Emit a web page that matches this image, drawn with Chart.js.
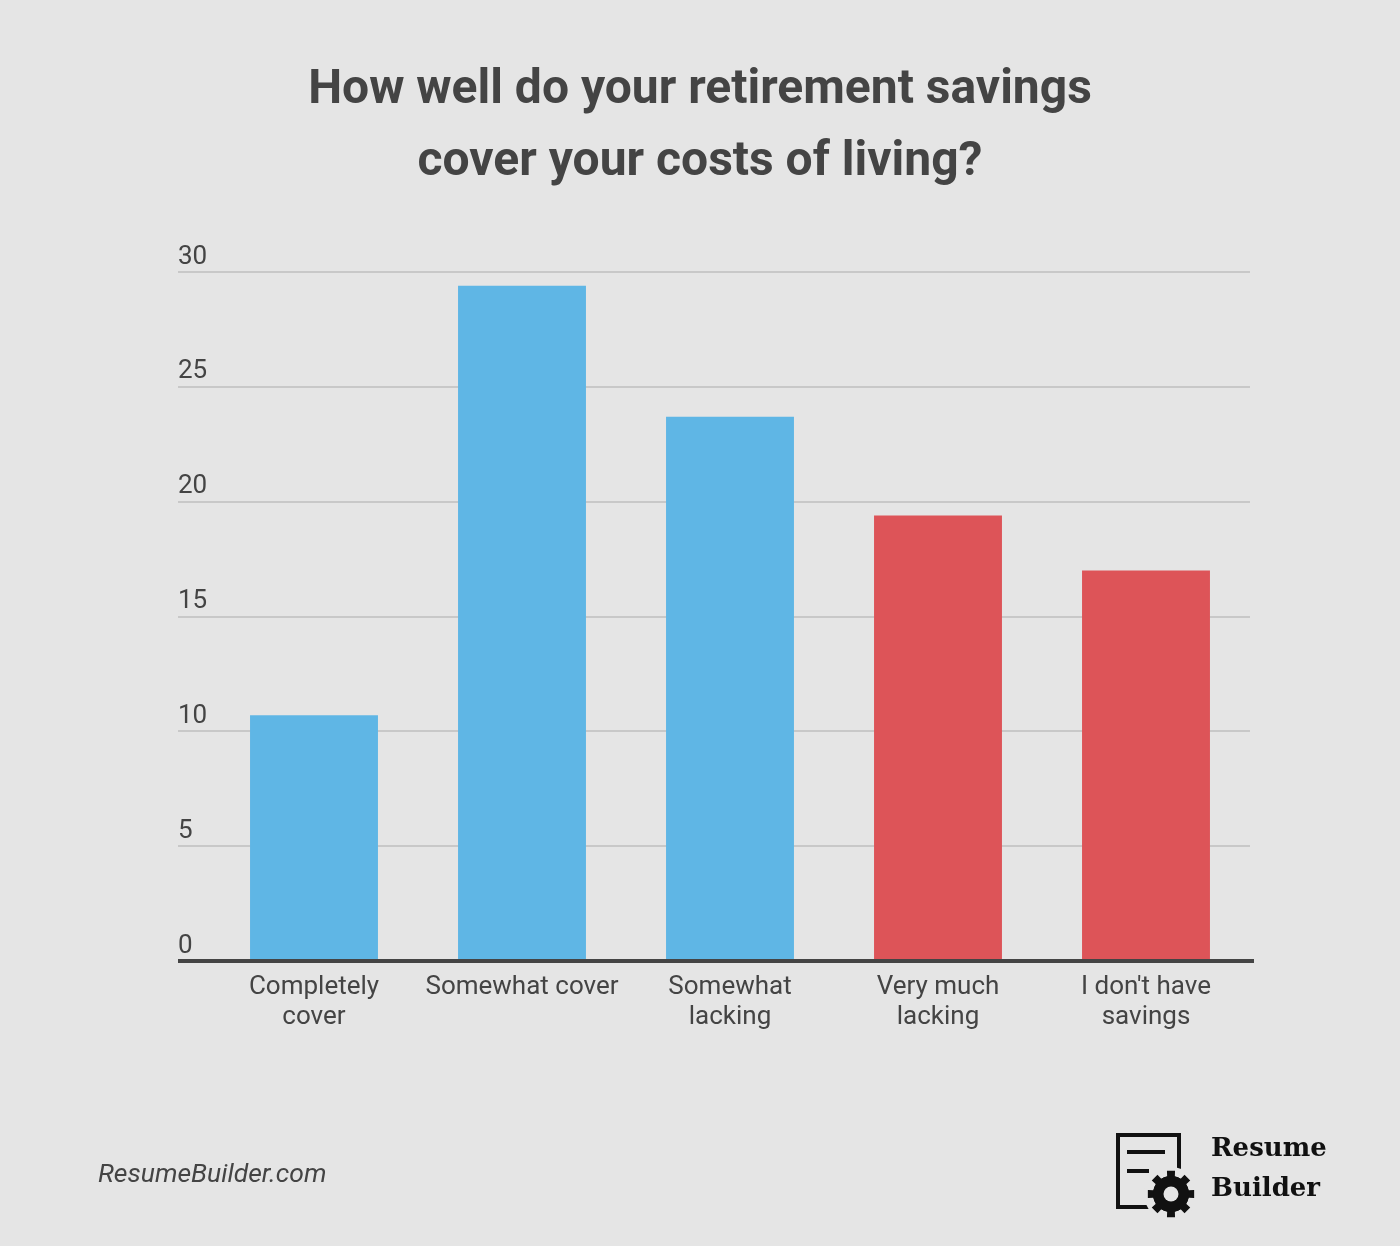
<!DOCTYPE html>
<html>
<head>
<meta charset="utf-8">
<script src="https://cdn.jsdelivr.net/npm/chart.js@4/dist/chart.umd.min.js"></script>
<style>
  html, body { margin: 0; padding: 0; background: #e5e5e5; }
  #wrap { width: 1400px; height: 1246px; position: relative; }
  canvas { display: block; }
</style>
</head>
<body>
<div id="wrap"><canvas id="c" width="1400" height="1246"></canvas></div>
<script>
// ---- data ----
const titleLines = ['How well do your retirement savings', 'cover your costs of living?'];
const categories = [['Completely', 'cover'], 'Somewhat cover', ['Somewhat', 'lacking'], ['Very much', 'lacking'], ["I don't have", 'savings']];
const values = [10.7, 29.4, 23.7, 19.4, 17.0];
const yTicks = { min: 0, max: 30, step: 5 };
const sourceText = 'ResumeBuilder.com';
const logoLines = ['Resume', 'Builder'];

const BLUE = '#5fb6e5';
const RED = '#dd5458';
const TEXT = '#444444';
const BG = '#e5e5e5';

const decorPlugin = {
  id: 'decor',
  afterDatasetsDraw(chart) {
    const y = chart.scales.y;
    const ctx = chart.ctx;
    const py = y.getPixelForValue(0);
    ctx.save();
    ctx.strokeStyle = TEXT;
    ctx.lineWidth = 4;
    ctx.beginPath();
    ctx.moveTo(y.right - 32, py);
    ctx.lineTo(chart.chartArea.right + 4, py);
    ctx.stroke();
    ctx.restore();
  },
  afterDraw(chart) {
    const ctx = chart.ctx;
    ctx.save();
    // source text
    ctx.fillStyle = TEXT;
    ctx.font = 'italic 26.5px Roboto';
    ctx.textBaseline = 'alphabetic';
    ctx.textAlign = 'left';
    ctx.fillText(sourceText, 98, 1182);

    // logo icon
    const ink = '#111111';
    ctx.strokeStyle = ink;
    ctx.lineWidth = 4;
    ctx.strokeRect(1118, 1135, 61, 72);
    ctx.beginPath();
    ctx.moveTo(1127, 1152); ctx.lineTo(1165, 1152);
    ctx.moveTo(1127, 1171); ctx.lineTo(1149, 1171);
    ctx.stroke();
    // gear
    const cx = 1171, cy = 1194;
    ctx.fillStyle = BG;
    ctx.beginPath(); ctx.arc(cx, cy, 27, 0, Math.PI * 2); ctx.fill();
    ctx.fillStyle = ink;
    const teeth = 8, rOut = 23.5, rIn = 18;
    ctx.beginPath();
    for (let i = 0; i < teeth; i++) {
      const a = (i / teeth) * Math.PI * 2 - Math.PI / 2;
      const w = Math.PI / teeth * 0.55;
      const pts = [
        [a - Math.PI / teeth, rIn],
        [a - w, rIn],
        [a - w * 0.8, rOut],
        [a + w * 0.8, rOut],
        [a + w, rIn]
      ];
      pts.forEach(([ang, r], k) => {
        const px = cx + Math.cos(ang) * r, pyy = cy + Math.sin(ang) * r;
        if (i === 0 && k === 0) ctx.moveTo(px, pyy); else ctx.lineTo(px, pyy);
      });
    }
    ctx.closePath();
    ctx.fill();
    ctx.beginPath(); ctx.arc(cx, cy, rIn, 0, Math.PI * 2); ctx.fill();
    ctx.fillStyle = BG;
    ctx.beginPath(); ctx.arc(cx, cy, 7.5, 0, Math.PI * 2); ctx.fill();

    // logo text
    ctx.fillStyle = ink;
    ctx.font = 'bold 26px "DejaVu Serif"';
    ctx.fillText(logoLines[0], 1211, 1156);
    ctx.fillText(logoLines[1], 1211, 1196);
    ctx.restore();
  }
};

new Chart(document.getElementById('c'), {
  type: 'bar',
  data: {
    labels: categories,
    datasets: [{
      data: values,
      backgroundColor: [BLUE, BLUE, BLUE, RED, RED],
      borderWidth: 0,
      barPercentage: 0.615,
      categoryPercentage: 1.0
    }]
  },
  options: {
    responsive: false,
    animation: false,
    devicePixelRatio: 1,
    layout: { padding: { left: 150, right: 150, top: 0, bottom: 205 } },
    plugins: {
      legend: { display: false },
      tooltip: { enabled: false },
      title: {
        display: true,
        text: titleLines,
        color: TEXT,
        font: { family: 'Roboto', size: 48, weight: 'bold', lineHeight: '72px' },
        padding: { top: 55, bottom: 73 }
      }
    },
    scales: {
      x: {
        grid: { display: false, drawTicks: false },
        border: { display: false },
        ticks: {
          color: TEXT,
          font: { family: 'Roboto', size: 26, lineHeight: '30px' },
          padding: 11,
          maxRotation: 0,
          autoSkip: false
        },
        afterFit(scale) { scale.height = 80; }
      },
      y: {
        min: yTicks.min,
        max: yTicks.max,
        border: { display: false },
        grid: {
          color: (c) => (c.tick && c.tick.value === 0 ? 'rgba(0,0,0,0)' : '#c8c8c8'),
          lineWidth: 2,
          drawTicks: true,
          tickLength: 32
        },
        ticks: {
          stepSize: yTicks.step,
          color: TEXT,
          font: { family: 'Roboto', size: 26 },
          mirror: true,
          padding: -32,
          crossAlign: 'near',
          labelOffset: -15
        },
        afterFit(scale) { scale.width = 60; }
      }
    }
  },
  plugins: [decorPlugin]
});
</script>
</body>
</html>
